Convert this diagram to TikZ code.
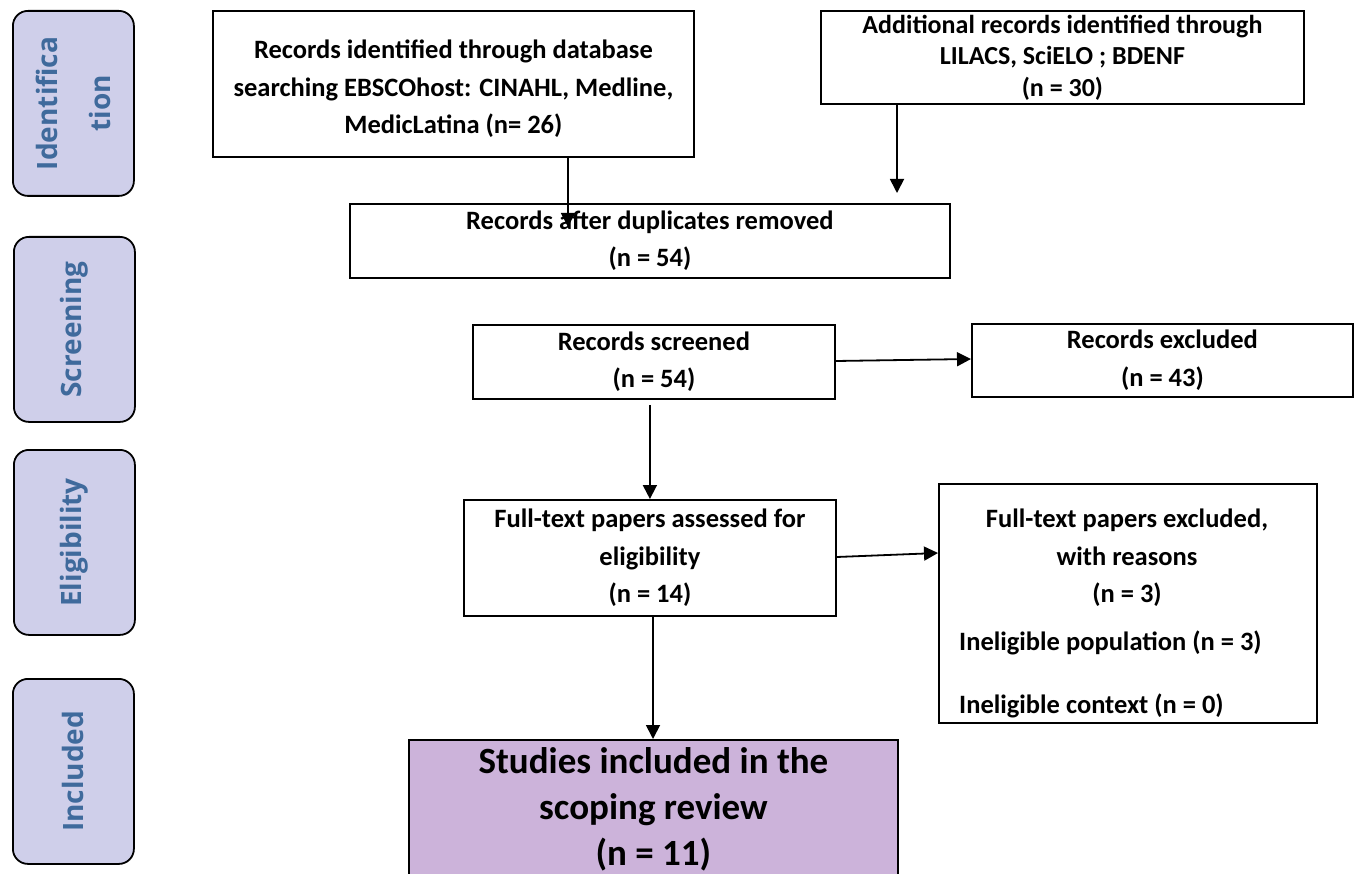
\documentclass[tikz,border=0pt]{standalone}
\usepackage{fontspec}
\setmainfont{Carlito}
\newfontfamily\sidefont{Open Sans}
\usetikzlibrary{arrows.meta}
\definecolor{sidefill}{HTML}{CFCFEA}
\definecolor{sidetext}{HTML}{3F6A9C}
\definecolor{inclfill}{HTML}{CCB3DA}
\begin{document}
\begin{tikzpicture}[x=1pt,y=1pt,
  box/.style={draw=black, line width=1.8pt, anchor=north west, inner sep=0pt, align=center,
    font=\bfseries\fontsize{26.5}{37.5}\selectfont},
  side/.style={draw=black, line width=1.8pt, fill=sidefill, rounded corners=15pt, anchor=north west,
    minimum width=121pt, minimum height=185pt, inner sep=0pt},
  sidelabel/.style={rotate=90, text=sidetext, align=center,
    font=\sidefont\bfseries\fontsize{28}{53}\selectfont},
  plain/.style={font=\bfseries\fontsize{26.5}{37.5}\selectfont, inner sep=0pt},
  arr/.style={line width=1.8pt, -{Triangle[length=14pt,width=14pt]}}]
\useasboundingbox (0,0) rectangle (1356,-874);

% side stages
\node[side] (sI) at (12,-10) {};
\node[sidelabel] (lI) at (sI.center) {Identifica\\tion};
\node[side] (sS) at (13,-236) {};
\node[sidelabel] (lS) at (sS.center) {Screening};
\node[side] (sE) at (13,-449) {};
\node[sidelabel] (lE) at (sE.center) {Eligibility};
\node[side] (sN) at (12,-678) {};
\node[sidelabel] (lN) at (sN.center) {Included};

% boxes
\node[box, minimum width=481pt, minimum height=146pt] (b1) at (212,-10) {};
\node[plain, align=center] (b1t) at ([yshift=-5pt]b1.center)
  {Records identified through database\\searching EBSCOhost: CINAHL, Medline,\\MedicLatina (n= 26)};
\node[box, minimum width=483pt, minimum height=93pt, font=\bfseries\fontsize{26}{31.5}\selectfont] (b2) at (820,-10)
  {Additional records identified through\\LILACS, SciELO ; BDENF\\(n = 30)};
\node[box, minimum width=600pt, minimum height=74pt] (dup) at (349,-203)
  {Records after duplicates removed\\(n = 54)};
\node[box, minimum width=362pt, minimum height=74pt] (scr) at (472,-324)
  {Records screened\\(n = 54)};
\node[box, minimum width=381pt, minimum height=73pt] (exc) at (971,-323)
  {Records excluded\\(n = 43)};
\node[box, minimum width=372pt, minimum height=116pt] (ft) at (463,-499)
  {Full-text papers assessed for\\eligibility\\(n = 14)};
\node[box, minimum width=378pt, minimum height=239pt] (fx) at (938,-483) {};
\node[plain, align=center] (fxt) at (1127,-558) {Full-text papers excluded,\\with reasons\\(n = 3)};
\node[plain, anchor=base west] (fx1) at (959,-650) {Ineligible population (n = 3)};
\node[plain, anchor=base west] (fx2) at (959,-713) {Ineligible context (n = 0)};
\node[box, fill=inclfill, minimum width=489pt, minimum height=138pt,
  font=\bfseries\fontsize{37}{46}\selectfont] (inc) at (408,-739)
  {Studies included in the\\scoping review\\(n = 11)};

% connectors
\coordinate (t1) at (568,-227);
\draw[arr] (b1.south -| t1) -- (t1);
\coordinate (t2) at (897,-193);
\draw[arr] (b2.south -| t2) -- (t2);
\draw[arr] (scr.east |- 0,-361) -- (exc.west |- 0,-359);
\draw[arr] ([yshift=-5pt]scr.south -| ft.north) -- (ft.north);
\draw[arr] (ft.east |- 0,-557) -- (fx.west |- 0,-553);
\draw[arr] (ft.south -| 653,0) -- (inc.north -| 653,0);
\end{tikzpicture}
\end{document}
